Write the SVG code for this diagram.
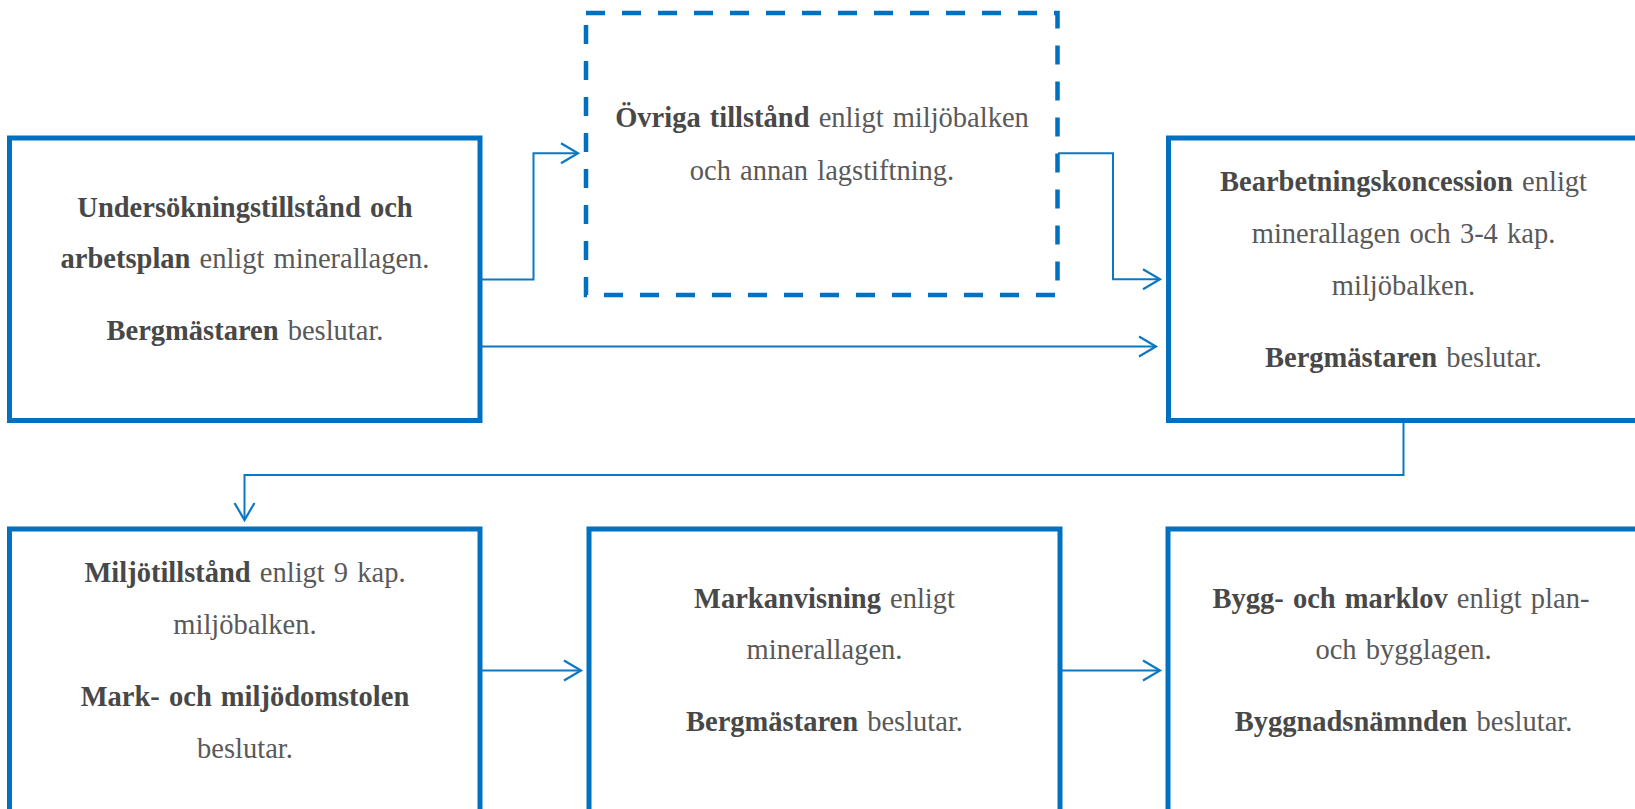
<svg xmlns="http://www.w3.org/2000/svg" width="1635" height="809" viewBox="0 0 1635 809">
<style>
.box{fill:#ffffff;stroke:#0070C0;stroke-width:5}
.dash{fill:#ffffff;stroke:#0070C0;stroke-width:4.5;stroke-dasharray:19 17}
.con{fill:none;stroke:#0B78C4;stroke-width:2}
text{font-family:"Liberation Serif","Times New Roman",serif;font-size:28.5px;fill:#595959;text-anchor:middle;word-spacing:2px}
.b{font-weight:bold;fill:#484848}
</style>
<defs>
<marker id="arr" markerUnits="userSpaceOnUse" markerWidth="24" markerHeight="26" viewBox="-20 -13 24 26" refX="0" refY="0" orient="auto">
<path d="M-17,-10 L0,0 L-17,10" fill="none" stroke="#0B78C4" stroke-width="2.2"/>
</marker>
</defs>
<rect width="1635" height="809" fill="#ffffff"/>
<g id="connectors">
<path class="con" d="M482,279.5 H533.5 V153.3 H578" marker-end="url(#arr)"/>
<path class="con" d="M478,346.5 H1156" marker-end="url(#arr)"/>
<path class="con" d="M1058,153.3 H1113 V279.3 H1160" marker-end="url(#arr)"/>
<path class="con" d="M1403.5,422 V475 H244.5 V520" marker-end="url(#arr)"/>
<path class="con" d="M482,670.5 H581" marker-end="url(#arr)"/>
<path class="con" d="M1062,670.5 H1160" marker-end="url(#arr)"/>
</g>
<g id="node-undersokning">
<rect class="box" x="9.5" y="138" width="470.5" height="282.5"/>
<text x="245" y="216.7"><tspan class="b">Undersökningstillstånd och</tspan></text>
<text x="245" y="268.3"><tspan class="b">arbetsplan</tspan> enligt minerallagen.</text>
<text x="245" y="340"><tspan class="b">Bergmästaren</tspan> beslutar.</text>
</g>
<g id="node-ovriga">
<rect class="dash" x="586" y="13" width="471.5" height="282"/>
<text x="822" y="127"><tspan class="b">Övriga tillstånd</tspan> enligt miljöbalken</text>
<text x="822" y="180">och annan lagstiftning.</text>
</g>
<g id="node-bearbetning">
<rect class="box" x="1168.5" y="138" width="471" height="282.5"/>
<text x="1403.5" y="190.7"><tspan class="b">Bearbetningskoncession</tspan> enligt</text>
<text x="1403.5" y="242.7">minerallagen och 3-4 kap.</text>
<text x="1403.5" y="295">miljöbalken.</text>
<text x="1403.5" y="366.7"><tspan class="b">Bergmästaren</tspan> beslutar.</text>
</g>
<g id="node-miljotillstand">
<rect class="box" x="9.5" y="529" width="470.5" height="300"/>
<text x="245" y="581.7"><tspan class="b">Miljötillstånd</tspan> enligt 9 kap.</text>
<text x="245" y="634">miljöbalken.</text>
<text x="245" y="705.7"><tspan class="b">Mark- och miljödomstolen</tspan></text>
<text x="245" y="757.7">beslutar.</text>
</g>
<g id="node-markanvisning">
<rect class="box" x="589" y="529" width="471" height="300"/>
<text x="824.5" y="607.7"><tspan class="b">Markanvisning</tspan> enligt</text>
<text x="824.5" y="659.3">minerallagen.</text>
<text x="824.5" y="730.7"><tspan class="b">Bergmästaren</tspan> beslutar.</text>
</g>
<g id="node-bygglov">
<rect class="box" x="1168" y="529" width="471" height="300"/>
<text x="1401" y="607.7"><tspan class="b">Bygg- och marklov</tspan> enligt plan-</text>
<text x="1403.5" y="659.3">och bygglagen.</text>
<text x="1403.5" y="731"><tspan class="b">Byggnadsnämnden</tspan> beslutar.</text>
</g>
</svg>
